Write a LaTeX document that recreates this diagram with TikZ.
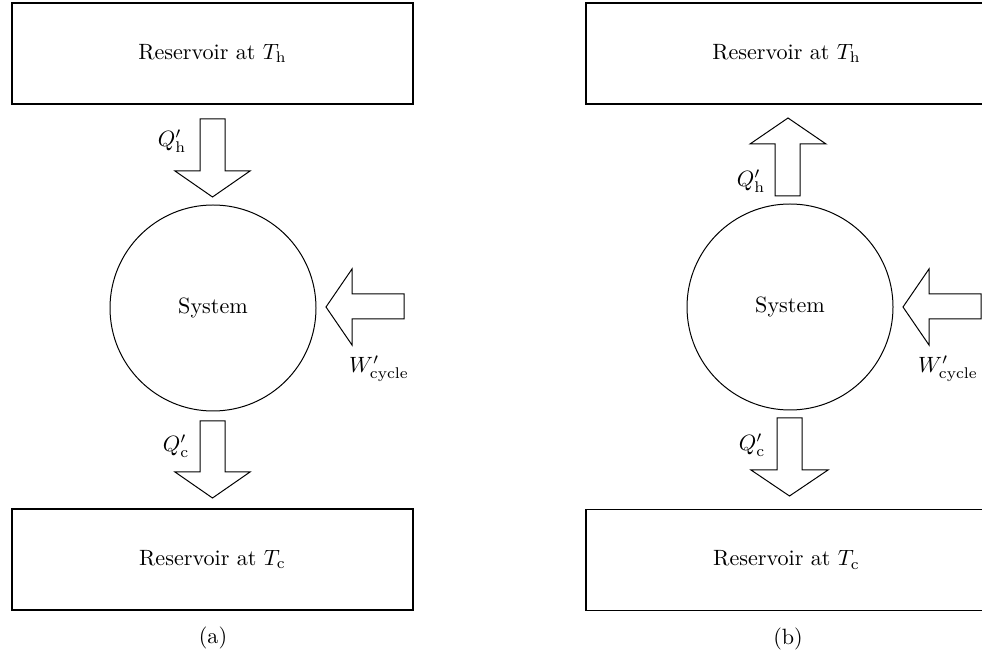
\documentclass[tikz,border=0pt]{standalone}
\begin{document}
\begin{tikzpicture}[x=0.452pt,y=-0.452pt,
  box/.style={draw, line width=0.5pt, rectangle, minimum width=401*0.452pt, minimum height=101*0.452pt, inner sep=0pt},
  sys/.style={draw, circle, minimum size=206*0.452pt, inner sep=0pt, line width=0.45pt},
  flow/.style={draw, line width=0.45pt, line join=miter},
  lab/.style={inner sep=0pt}]
\useasboundingbox (0,0) rectangle (982,666);
\clip (0,0) rectangle (982,666);
% ---- panel (a)
\node[box] (hA) at (212.5,53.5) {Reservoir at $T_{\mathrm{h}}$};
\node[box] (cA) at (212.5,559.5) {Reservoir at $T_{\mathrm{c}}$};
\node[sys] (sA) at (213,308) {System};
\draw[flow] (200,119) -- (225,119) -- (225,171) -- (250,171) -- (212.5,197) -- (175,171) -- (200,171) -- cycle;
\draw[flow] (200,421) -- (225,421) -- (225,472) -- (250,472) -- (212.5,498) -- (175,472) -- (200,472) -- cycle;
\draw[flow] (326,307) -- (352,269) -- (352,294) -- (404,294) -- (404,319) -- (352,319) -- (352,345) -- cycle;
\node[lab] (qhA) at (172,141) {$Q'_{\mathrm{h}}$};
\node[lab] (qcA) at (176,446) {$Q'_{\mathrm{c}}$};
\node[lab] (wA) at (379,369) {$W'_{\mathrm{cycle}}$};
\node[lab] (capA) at (213,638) {(a)};
% ---- panel (b)
\node[box] (hB) at (786.5,53.5) {Reservoir at $T_{\mathrm{h}}$};
\node[box] (cB) at (786.5,560) {Reservoir at $T_{\mathrm{c}}$};
\node[sys] (sB) at (790,307) {System};
\draw[flow] (775,196) -- (800,196) -- (800,144) -- (826,144) -- (788,118) -- (750,144) -- (775,144) -- cycle;
\draw[flow] (777,418) -- (802,418) -- (802,470) -- (828,470) -- (789.5,496) -- (751,470) -- (777,470) -- cycle;
\draw[flow] (903,307) -- (929,269) -- (929,294) -- (981,294) -- (981,319) -- (929,319) -- (929,345) -- cycle;
\node[lab] (qhB) at (751,181) {$Q'_{\mathrm{h}}$};
\node[lab] (qcB) at (752,445) {$Q'_{\mathrm{c}}$};
\node[lab] (wB) at (948,369) {$W'_{\mathrm{cycle}}$};
\node[lab] (capB) at (788,639) {(b)};
\end{tikzpicture}
\end{document}
